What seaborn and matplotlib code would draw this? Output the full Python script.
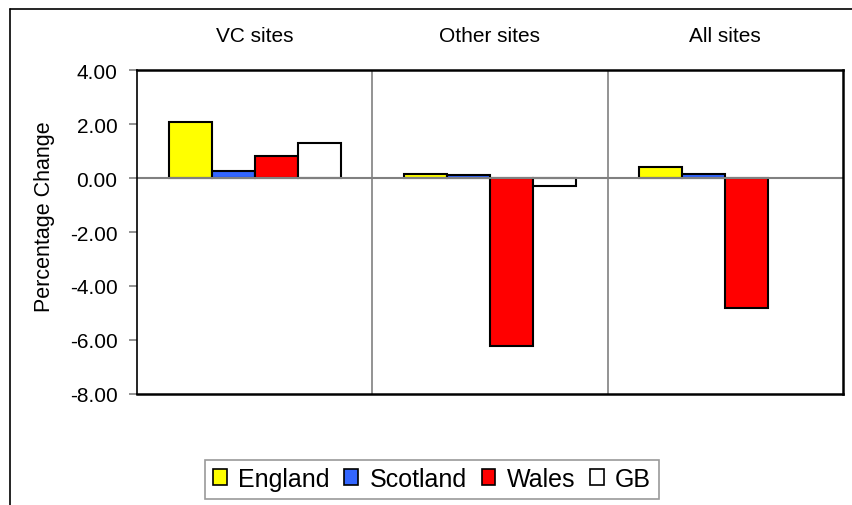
import numpy as np
import pandas as pd
import matplotlib
matplotlib.use("Agg")
import matplotlib.pyplot as plt
import seaborn as sns
from matplotlib.lines import Line2D
from matplotlib.patches import Patch
import matplotlib.transforms as mtransforms

groups = ["VC sites", "Other sites", "All sites"]
series = ["England", "Scotland", "Wales", "GB"]
england = [2.07, 0.16, 0.40]
scotland = [0.25, 0.10, 0.15]
wales = [0.81, -6.22, -4.80]
gb = [1.28, -0.29, np.nan]
colors = ["#FFFF00", "#3366FF", "#FF0000", "#FFFFFF"]
yticks = [-8, -6, -4, -2, 0, 2, 4]

rows = []
for name, vals in zip(series, [england, scotland, wales, gb]):
    for g, v in zip(groups, vals):
        rows.append({"Group": g, "Series": name, "Value": v})
df = pd.DataFrame(rows)

sns.set_theme(style="white")
plt.rcParams["font.family"] = ["Liberation Sans", "DejaVu Sans"]
plt.rcParams["text.color"] = "black"
plt.rcParams["axes.labelcolor"] = "black"
plt.rcParams["ytick.labelcolor"] = "black"

fig = plt.figure(figsize=(8.52, 5.06), dpi=100)
ax = fig.add_axes([137/852, 1-395/506, (843-137)/852, (395-71)/506])

sns.barplot(data=df, x="Group", y="Value", hue="Series", order=groups,
            hue_order=series, palette=colors, width=0.73, edgecolor="black",
            linewidth=1.5, saturation=1, ax=ax, legend=False, errorbar=None)

ax.set_xlim(-0.5, 2.5)
ax.set_ylim(-8, 4)
ax.set_yticks(yticks)
ax.set_yticklabels([f"{v:.2f}" for v in yticks], fontsize=15, color="black")
ax.set_xticks([])
ax.set_xlabel("")
ax.set_ylabel("Percentage Change", fontsize=15.5, color="black")
ax.yaxis.set_label_coords(55/852, 1-217/506, transform=fig.transFigure)
ax.tick_params(axis="y", which="both", left=True, length=6, width=1.2,
               color="#808080", pad=8)
ax.axhline(0, color="#808080", lw=1.5, zorder=1)
for xb in [0.5, 1.5]:
    ax.axvline(xb, color="#808080", lw=1.2, zorder=1)
for s in ["top", "bottom", "right"]:
    ax.spines[s].set_color("black")
    ax.spines[s].set_linewidth(1.8)
ax.spines["left"].set_color("black")
ax.spines["left"].set_linewidth(1.2)

trans = mtransforms.blended_transform_factory(ax.transData, fig.transFigure)
for i, g in enumerate(groups):
    ax.text(i, 1-37/506, g, transform=trans, ha="center", va="center",
            fontsize=15, color="black")

# outer chart border
fig.add_artist(Line2D([10/852, 10/852], [0, 1-10/506], transform=fig.transFigure,
                      color="black", lw=1.2))
fig.add_artist(Line2D([10/852, 1], [1-10/506, 1-10/506], transform=fig.transFigure,
                      color="black", lw=1.2))

handles = [Patch(facecolor=c, edgecolor="black", lw=1.2) for c in colors]
leg = fig.legend(handles, series, loc="center", bbox_to_anchor=(432/852, 1-480/506),
                 ncol=4, fontsize=18, frameon=True, fancybox=False,
                 handlelength=0.55, handleheight=0.6, handletextpad=0.45,
                 columnspacing=0.6, borderpad=0.3, borderaxespad=0)
leg.get_frame().set_edgecolor("#808080")
leg.get_frame().set_linewidth(1.2)

fig.savefig("out.png", dpi=100)
